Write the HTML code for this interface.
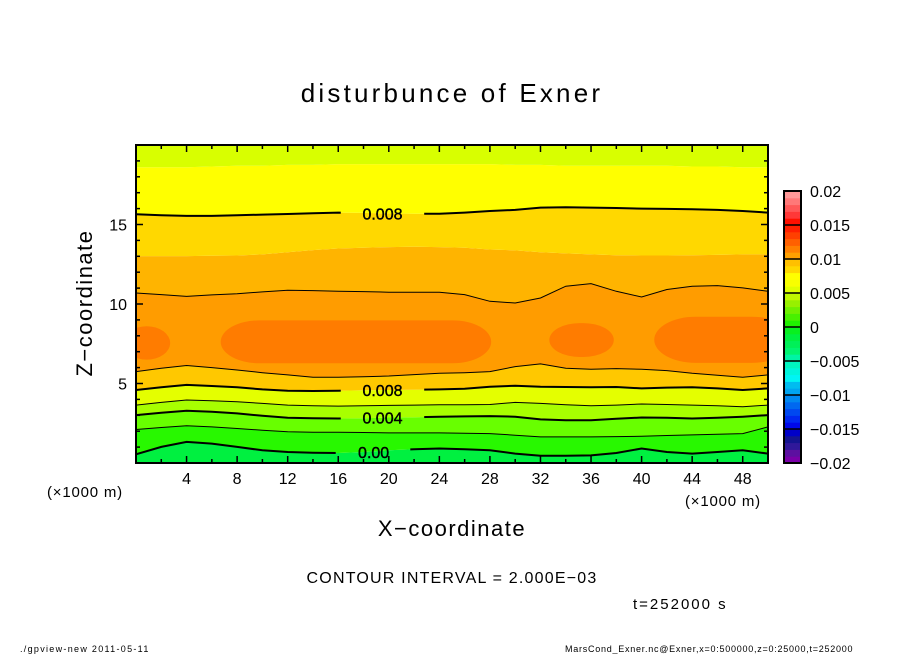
<!DOCTYPE html>
<html><head><meta charset="utf-8"><style>
html,body{margin:0;padding:0;background:#fff;}
svg{display:block;font-family:"Liberation Sans",sans-serif;}
</style></head><body>
<svg id="chart" width="904" height="654" viewBox="0 0 904 654" xmlns="http://www.w3.org/2000/svg">
<defs><clipPath id="plotclip"><rect x="136" y="145" width="632" height="318"/></clipPath></defs>
<text x="452" y="102" text-anchor="middle" font-size="26" letter-spacing="3.2">disturbunce of Exner</text>
<g id="fills" clip-path="url(#plotclip)"></g>
<g id="lines" clip-path="url(#plotclip)"></g>
<g id="labels"></g>
<rect x="136" y="145" width="632" height="318" fill="none" stroke="#000" stroke-width="2"/>
<g id="ticks"></g>
<g id="xlabels"></g>
<g id="zlabels"></g>
<text x="47" y="497" font-size="15" letter-spacing="0.8">(×1000 m)</text>
<text x="685" y="506" font-size="15" letter-spacing="0.8">(×1000 m)</text>
<text x="452" y="536" text-anchor="middle" font-size="22" letter-spacing="1.5">X−coordinate</text>
<text transform="translate(92,303) rotate(-90)" text-anchor="middle" font-size="22" letter-spacing="1.5">Z−coordinate</text>
<g id="cbar"></g>
<text x="452" y="583" text-anchor="middle" font-size="16" letter-spacing="1.2">CONTOUR INTERVAL = 2.000E−03</text>
<text x="633" y="609" font-size="15" letter-spacing="2">t=252000 s</text>
<text x="20" y="652" font-size="9" letter-spacing="1.3">./gpview-new   2011-05-11</text>
<text x="565" y="652" font-size="9" letter-spacing="0.75">MarsCond_Exner.nc@Exner,x=0:500000,z=0:25000,t=252000</text>
</svg>
<script>
const xs=[0,2,4,6,8,10,12,14,16,18,20,22,24,26,28,30,32,34,36,38,40,42,44,46,48,50];
const topBand=[18.6,18.6,18.6,18.65,18.7,18.7,18.75,18.75,18.8,18.8,18.8,18.8,18.8,18.8,18.8,18.75,18.75,18.7,18.7,18.7,18.7,18.7,18.65,18.65,18.6,18.6];
const c8top=[15.64,15.58,15.54,15.54,15.58,15.62,15.66,15.71,15.75,15.73,15.70,15.68,15.68,15.75,15.85,15.92,16.06,16.08,16.06,16.04,16.00,15.98,15.96,15.92,15.85,15.75];
const b9top=[13.01,13.01,13.01,13.03,13.05,13.12,13.26,13.39,13.49,13.54,13.58,13.60,13.58,13.54,13.43,13.37,13.26,13.18,13.12,13.07,13.05,13.05,13.07,13.09,13.12,13.12];
const c10up=[10.69,10.59,10.48,10.57,10.65,10.76,10.86,10.84,10.80,10.78,10.74,10.74,10.74,10.59,10.17,10.06,10.38,11.12,11.28,10.80,10.44,10.91,11.12,11.16,11.01,10.80];
const c10lo=[5.75,5.96,6.13,6.00,5.85,5.68,5.54,5.39,5.39,5.43,5.47,5.56,5.64,5.68,5.75,6.06,6.23,5.96,5.89,5.94,5.89,5.81,5.64,5.52,5.39,5.54];
const c8lo=[4.59,4.76,4.91,4.84,4.76,4.63,4.55,4.53,4.55,4.57,4.59,4.61,4.63,4.67,4.80,4.86,4.80,4.78,4.76,4.78,4.69,4.74,4.76,4.69,4.59,4.69];
const c6=[3.64,3.81,3.96,3.92,3.85,3.75,3.64,3.60,3.58,3.60,3.62,3.64,3.66,3.66,3.68,3.81,3.75,3.66,3.60,3.64,3.71,3.68,3.64,3.60,3.54,3.64];
const c4=[3.01,3.16,3.28,3.22,3.12,2.97,2.84,2.82,2.80,2.82,2.86,2.88,2.91,2.93,2.95,2.91,2.74,2.69,2.69,2.78,2.86,2.84,2.80,2.84,2.91,3.01];
const c2=[2.11,2.23,2.34,2.27,2.17,2.06,1.96,1.94,1.94,1.92,1.89,1.89,1.89,1.87,1.85,1.75,1.64,1.64,1.64,1.66,1.68,1.73,1.77,1.81,1.85,2.27];
const c0=[0.55,1.01,1.33,1.22,1.01,0.80,0.69,0.65,0.63,0.69,0.80,0.86,0.91,0.86,0.80,0.59,0.46,0.46,0.48,0.63,0.91,0.69,0.59,0.69,0.80,0.59];
const blobX0=[-1,6.7,32.7,41];
const blobX1=[2.7,28.1,37.8,52];
const blobZ0=[6.5,6.27,6.67,6.3];
const blobZ1=[8.6,8.97,8.8,9.2];
const xTicks=[4,8,12,16,20,24,28,32,36,40,44,48];
const zTicks=[5,10,15];
const cbarTicks=[0.02,0.015,0.01,0.005,0,-0.005,-0.01,-0.015,-0.02];
const cbarTickText=["0.02","0.015","0.01","0.005","0","−0.005","−0.01","−0.015","−0.02"];
const cbarColors=["#7a00a8","#5c10a0","#30189a","#141490","#0000c8","#0008e8","#0028f0","#0048f0","#0068f0","#0088f0","#00a4f0","#00bcf0","#00f4f4","#00f4dc","#00f4c0","#00f4a4","#00f470","#00f058","#00f040","#08f020","#20f000","#48f000","#70f000","#98f000","#c0f800","#e0ff00","#f8ff00","#ffff00","#ffd800","#ffc000","#ffa000","#ff8000","#ff6000","#ff4000","#ff2000","#ff1000","#ff3838","#ff5858","#ff7878","#ff9898"];

const NS="http://www.w3.org/2000/svg";
const X=v=>136+(v/50)*632, Z=v=>463-(v/20)*318;
function mk(t,a,p){const e=document.createElementNS(NS,t);for(const k in a)e.setAttribute(k,a[k]);p.appendChild(e);return e;}
function pts(arr){return xs.map((x,i)=>X(x).toFixed(1)+","+Z(arr[i]).toFixed(1));}
function band(lo,hi,color,name){
  const lp=lo?pts(lo):[X(0)+","+Z(-1),X(50)+","+Z(-1)];
  const hp=hi?pts(hi).reverse():[X(50)+","+Z(21),X(0)+","+Z(21)];
  const e=mk("polygon",{points:lp.concat(hp).join(" "),fill:color},document.getElementById("fills"));
  
  
}
band(null,c0,"#00f040","band-below-0");
band(c0,c2,"#28f800","band-0-002");
band(c2,c4,"#68ff00","band-002-004");
band(c4,c6,"#a8ff00","band-004-006");
band(c6,c8lo,"#e4ff00","band-006-008-low");
band(c8lo,c10lo,"#ffc800","band-008-010-low");
band(c10lo,c10up,"#ff9c00","band-010-mid");
band(c10up,b9top,"#ffb400","band-upper-orange");
band(b9top,c8top,"#ffd800","band-upper-gold");
band(c8top,topBand,"#ffff00","band-upper-yellow");
band(topBand,null,"#d8ff00","band-top");
const fills=document.getElementById("fills");
blobX0.forEach((x0,i)=>{
  const x1=blobX1[i],w=X(x1)-X(x0),h=Z(blobZ0[i])-Z(blobZ1[i]);
  const e=mk("rect",{x:X(x0),y:Z(blobZ1[i]),width:w,height:h,rx:Math.min(w/2,h*0.9),ry:h/2,fill:"#ff7c00"},fills);
  
  
});
const lines=document.getElementById("lines");
function line(arr,w,name){
  const e=mk("path",{d:"M"+pts(arr).join(" L"),fill:"none",stroke:"#000","stroke-width":w},lines);
  
  
  return e;
}
const defs=document.querySelector("defs");
function gapMask(id,x0,x1){
  const m=mk("mask",{id:id,maskUnits:"userSpaceOnUse",x:0,y:0,width:904,height:654},defs);
  mk("rect",{x:0,y:0,width:904,height:654,fill:"#fff"},m);
  mk("rect",{x:X(x0),y:0,width:X(x1)-X(x0),height:654,fill:"#000"},m);
}
gapMask("m1",16.2,22.8);gapMask("m2",16.2,22.8);gapMask("m3",16.2,22.8);gapMask("m4",15.8,21.7);
line(c8top,2,"contour-0.008-upper").setAttribute("mask","url(#m1)");
line(c10up,1,"contour-0.010-upper");
line(c10lo,1,"contour-0.010-lower");
line(c8lo,2,"contour-0.008-lower").setAttribute("mask","url(#m2)");
line(c6,1,"contour-0.006");
line(c4,2,"contour-0.004").setAttribute("mask","url(#m3)");
line(c2,1,"contour-0.002");
line(c0,2,"contour-0.000").setAttribute("mask","url(#m4)");
const lab=document.getElementById("labels");
[["0.008",19.5,c8top[10]],["0.008",19.5,c8lo[10]],["0.004",19.5,c4[10]],["0.00",18.8,c0[9]]].forEach((d,i)=>{
  const t=mk("text",{x:X(d[1]),y:Z(d[2])+6,"text-anchor":"middle","font-size":16,stroke:"#000","stroke-width":0.4},lab);
  t.textContent=d[0];
  
  
});
const tk=document.getElementById("ticks");
for(let v=2;v<50;v+=2){const L=(v%4===0)?7:4;
  mk("line",{x1:X(v),x2:X(v),y1:463,y2:463-L,stroke:"#000","stroke-width":1.5},tk);
  mk("line",{x1:X(v),x2:X(v),y1:145,y2:145+L,stroke:"#000","stroke-width":1.5},tk);}
for(let v=1;v<20;v++){const L=(v%5===0)?7:4;
  mk("line",{x1:136,x2:136+L,y1:Z(v),y2:Z(v),stroke:"#000","stroke-width":1.5},tk);
  mk("line",{x1:768,x2:768-L,y1:Z(v),y2:Z(v),stroke:"#000","stroke-width":1.5},tk);}
const xl=document.getElementById("xlabels");
xTicks.forEach(v=>{const t=mk("text",{x:X(v),y:484,"text-anchor":"middle","font-size":16},xl);t.textContent=v;
  
  });
const zl=document.getElementById("zlabels");
zTicks.forEach(v=>{const t=mk("text",{x:127,y:Z(v)+6,"text-anchor":"end","font-size":16},zl);t.textContent=v;
  
  });
const cb=document.getElementById("cbar");
const CY=v=>463-(v+0.02)/0.04*272;
const n=cbarColors.length, step=0.04/n;
cbarColors.forEach((c,i)=>{const v0=-0.02+i*step;
  const r=mk("rect",{x:784,y:CY(v0+step),width:17,height:CY(v0)-CY(v0+step)+0.5,fill:c},cb);
  
  });
cbarTicks.forEach((v,i)=>{
  mk("line",{x1:784,x2:801,y1:CY(v),y2:CY(v),stroke:"#000","stroke-width":1.5},cb);
  const t=mk("text",{x:810,y:CY(v)+6,"font-size":16},cb);t.textContent=cbarTickText[i];
  
  });
mk("rect",{x:784,y:191,width:17,height:272,fill:"none",stroke:"#000","stroke-width":2},cb);
</script>
</body></html>
